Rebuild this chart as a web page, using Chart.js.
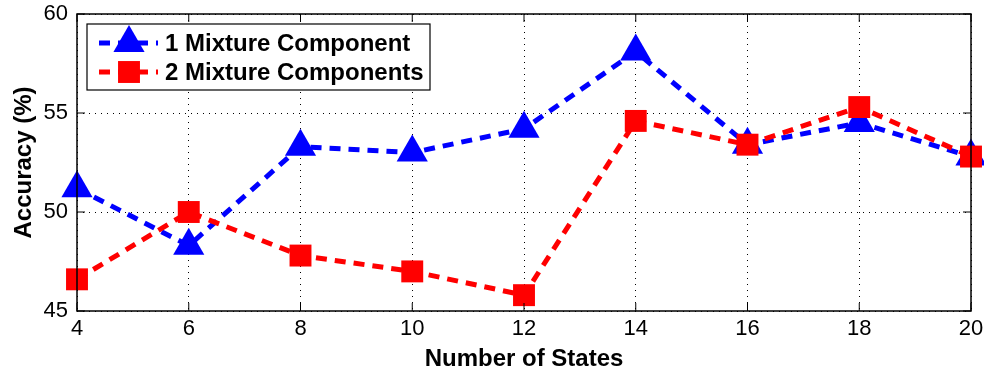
<!DOCTYPE html>
<html>
<head>
<meta charset="utf-8">
<script src="https://cdn.jsdelivr.net/npm/chart.js@4/dist/chart.umd.min.js"></script>
<style>
  html, body { margin: 0; padding: 0; background: #fff; }
  canvas { display: block; }
</style>
</head>
<body>
<canvas id="accChart" width="984" height="371"></canvas>
<script>
// data
const states = [4, 6, 8, 10, 12, 14, 16, 18, 20];
const oneMixture = [51.2, 48.3, 53.3, 53.0, 54.2, 58.1, 53.4, 54.5, 52.8];
const twoMixture = [46.6, 50.0, 47.8, 47.0, 45.8, 54.6, 53.4, 55.3, 52.8];
const seriesNames = ["1 Mixture Component", "2 Mixture Components"];
const xTicks = [4, 6, 8, 10, 12, 14, 16, 18, 20];
const yTicks = [45, 50, 55, 60];

const FONT = "'Liberation Sans', Arial, Helvetica, sans-serif";

function toPoints(ys) {
  return states.map((s, i) => ({ x: s, y: ys[i] }));
}

function drawMarker(ctx, style, x, y, r, color) {
  ctx.save();
  ctx.fillStyle = color;
  ctx.beginPath();
  if (style === "triangle") {
    for (let k = 0; k < 3; k++) {
      const a = k * 2 * Math.PI / 3;
      const px = x + Math.sin(a) * r;
      const py = y - Math.cos(a) * r;
      if (k === 0) ctx.moveTo(px, py); else ctx.lineTo(px, py);
    }
    ctx.closePath();
  } else {
    const h = Math.SQRT1_2 * r;
    ctx.rect(x - h, y - h, 2 * h, 2 * h);
  }
  ctx.fill();
  ctx.restore();
}

// frame, inward ticks and the boxed legend (matlab look)
const matlabFrame = {
  id: "matlabFrame",
  afterDraw(chart) {
    const { ctx, chartArea: a, scales } = chart;
    ctx.save();
    ctx.strokeStyle = "#000";
    ctx.lineWidth = 1.5;
    ctx.strokeRect(a.left, a.top, a.right - a.left, a.bottom - a.top);
    ctx.lineWidth = 1;
    ctx.beginPath();
    xTicks.forEach(v => {
      const px = scales.x.getPixelForValue(v);
      ctx.moveTo(px, a.bottom); ctx.lineTo(px, a.bottom - 8);
      ctx.moveTo(px, a.top); ctx.lineTo(px, a.top + 8);
    });
    yTicks.forEach(v => {
      const py = scales.y.getPixelForValue(v);
      ctx.moveTo(a.left, py); ctx.lineTo(a.left + 8, py);
      ctx.moveTo(a.right, py); ctx.lineTo(a.right - 8, py);
    });
    ctx.stroke();

    // legend
    const lx = a.left + 10, ly = a.top + 10, lw = 343, lh = 66;
    ctx.fillStyle = "#fff";
    ctx.fillRect(lx, ly, lw, lh);
    ctx.strokeStyle = "#000";
    ctx.lineWidth = 1.2;
    ctx.strokeRect(lx, ly, lw, lh);
    chart.data.datasets.forEach((ds, i) => {
      const cy = ly + 19 + i * 29;
      ctx.save();
      ctx.strokeStyle = ds.borderColor;
      ctx.lineWidth = ds.borderWidth;
      ctx.setLineDash(ds.borderDash);
      ctx.beginPath();
      ctx.moveTo(lx + 12, cy); ctx.lineTo(lx + 71, cy);
      ctx.stroke();
      ctx.restore();
      drawMarker(ctx, ds.pointStyle, lx + 42, cy, ds.pointRadius, ds.pointBackgroundColor);
      ctx.fillStyle = "#000";
      ctx.font = "bold 24px " + FONT;
      ctx.textBaseline = "middle";
      ctx.textAlign = "left";
      ctx.fillText(ds.label, lx + 78, cy + 1);
    });
    ctx.restore();
  }
};

new Chart(document.getElementById("accChart").getContext("2d"), {
  type: "line",
  data: {
    datasets: [
      {
        label: seriesNames[0],
        data: toPoints(oneMixture),
        borderColor: "#0000ff",
        backgroundColor: "#0000ff",
        pointBackgroundColor: "#0000ff",
        pointBorderColor: "#0000ff",
        pointBorderWidth: 0,
        borderWidth: 5,
        borderDash: [11, 8],
        pointStyle: "triangle",
        pointRadius: 18,
        tension: 0,
        clip: false,
        order: 2
      },
      {
        label: seriesNames[1],
        data: toPoints(twoMixture),
        borderColor: "#ff0000",
        backgroundColor: "#ff0000",
        pointBackgroundColor: "#ff0000",
        pointBorderColor: "#ff0000",
        pointBorderWidth: 0,
        borderWidth: 5,
        borderDash: [11, 8],
        pointStyle: "rect",
        pointRadius: 15.5,
        tension: 0,
        clip: false,
        order: 1
      }
    ]
  },
  options: {
    responsive: false,
    animation: false,
    devicePixelRatio: 1,
    layout: { autoPadding: false, padding: { top: 14, right: 13, left: 0, bottom: 0 } },
    plugins: { legend: { display: false }, tooltip: { enabled: false } },
    scales: {
      x: {
        type: "linear",
        min: 4,
        max: 20,
        afterFit: s => {
          s.height = 60;
          s.paddingLeft = 0; s.paddingRight = 0;
        },
        afterBuildTicks: s => { s.ticks = xTicks.map(v => ({ value: v })); },
        ticks: { color: "#000", font: { family: FONT, size: 22 }, padding: 5, maxRotation: 0 },
        grid: { color: "#000", lineWidth: 1, drawTicks: false },
        border: { display: false, dash: [1, 5] },
        title: {
          display: true,
          text: "Number of States",
          color: "#000",
          font: { family: FONT, size: 24, weight: "bold" },
          padding: { top: -3, bottom: -3 }
        }
      },
      y: {
        min: 45,
        max: 60,
        afterFit: s => {
          s.width = 77;
          s.paddingTop = 0; s.paddingBottom = 0;
        },
        afterBuildTicks: s => { s.ticks = yTicks.map(v => ({ value: v })); },
        ticks: { color: "#000", font: { family: FONT, size: 22 }, padding: 9 },
        grid: { color: "#000", lineWidth: 1, drawTicks: false },
        border: { display: false, dash: [1, 5] },
        title: {
          display: true,
          text: "Accuracy (%)",
          color: "#000",
          font: { family: FONT, size: 24, weight: "bold" },
          padding: { top: 10, bottom: 10 }
        }
      }
    }
  },
  plugins: [matlabFrame]
});
</script>
</body>
</html>
